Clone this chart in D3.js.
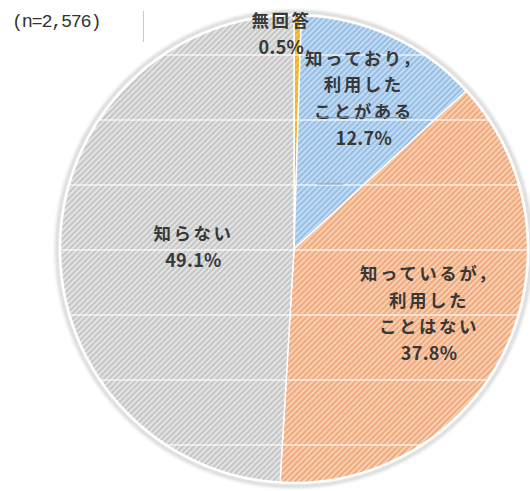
<!DOCTYPE html>
<html lang="ja">
<head>
<meta charset="utf-8">
<script src="https://cdn.jsdelivr.net/npm/d3@7"></script>
<style>
  html, body { margin: 0; padding: 0; background: #ffffff; }
  svg { display: block; }
</style>
</head>
<body>
<svg id="chart" width="530" height="491"></svg>
<script>
// Survey answers, clockwise from 12 o'clock
const categories = ["無回答", "知っており，利用したことがある", "知っているが，利用したことはない", "知らない"];
const values = [0.5, 12.7, 37.8, 49.1];
const labelLines = [
  ["無回答"],
  ["知っており，", "利用した", "ことがある"],
  ["知っているが，", "利用した", "ことはない"],
  ["知らない"]
];
const sampleNote = "(n=2,576)";

// Styling: hatch colours (light ground, darker stripe) per slice
const hatch = [
  { ground: "#f5c43e", stripe: "#eeb22a" },
  { ground: "#c3dbf2", stripe: "#97bfe6" },
  { ground: "#f9cfb2", stripe: "#f0aa7e" },
  { ground: "#e3e3e3", stripe: "#c6c6c6" }
];
// Label placement: radius as a fraction of the pie radius, plus a small x nudge
const labelLayout = [
  { f: 0.925, dx: -16 },
  { f: 0.715, dx: 0 },
  { f: 0.63, dx: 2 },
  { f: 0.43, dx: 0 }
];

const W = 530, H = 491;
const cx = 294, cy = 249, R = 234;

const svg = d3.select("#chart");
const defs = svg.append("defs");

hatch.forEach((h, i) => {
  const p = defs.append("pattern")
    .attr("id", "hatch" + i)
    .attr("patternUnits", "userSpaceOnUse")
    .attr("width", 4).attr("height", 4)
    .attr("patternTransform", "rotate(45)");
  p.append("rect").attr("width", 4).attr("height", 4).attr("fill", h.ground);
  p.append("rect").attr("width", 2).attr("height", 4).attr("fill", h.stripe);
});

defs.append("clipPath").attr("id", "pieClip")
  .append("circle").attr("r", R);

defs.append("filter").attr("id", "soft")
  .attr("x", "-10%").attr("y", "-10%").attr("width", "120%").attr("height", "120%")
  .append("feGaussianBlur").attr("stdDeviation", 1.6);

// sample size note and the thin divider next to it
svg.append("text")
  .attr("x", 12).attr("y", 27)
  .attr("font-family", "'Liberation Mono', 'DejaVu Sans Mono', monospace")
  .attr("font-size", 18.5)
  .attr("letter-spacing", -1.3)
  .attr("fill", "#333333")
  .text(sampleNote);

svg.append("line")
  .attr("x1", 143.5).attr("x2", 143.5)
  .attr("y1", 11).attr("y2", 42)
  .attr("stroke", "#c9c9c9").attr("stroke-width", 1);

const g = svg.append("g").attr("transform", `translate(${cx},${cy})`);

// faint grey halo around the disc
g.append("circle")
  .attr("r", R + 3)
  .attr("fill", "none")
  .attr("stroke", "#b4b4b4")
  .attr("stroke-width", 4)
  .attr("opacity", 0.5)
  .attr("filter", "url(#soft)");

const pie = d3.pie().sort(null).value(d => d);
const arcs = pie(values);
const arc = d3.arc().innerRadius(0).outerRadius(R);

g.selectAll("path.slice")
  .data(arcs)
  .join("path")
  .attr("class", "slice")
  .attr("d", arc)
  .attr("fill", (d, i) => `url(#hatch${i})`)
  .attr("stroke", "#ffffff")
  .attr("stroke-width", 1.4)
  .attr("stroke-linejoin", "round");

// pale horizontal rules running across the disc
const rules = g.append("g").attr("clip-path", "url(#pieClip)");
rules.selectAll("line")
  .data(d3.range(7).map(k => 55 + 65 * k - cy))
  .join("line")
  .attr("x1", -R).attr("x2", R)
  .attr("y1", d => d).attr("y2", d => d)
  .attr("stroke", "#ffffff")
  .attr("stroke-width", 1.4)
  .attr("opacity", 0.75);

// outer white rim
g.append("circle")
  .attr("r", R)
  .attr("fill", "none")
  .attr("stroke", "#ffffff")
  .attr("stroke-width", 2.5);

// small grey rule marks inside the blue slice
svg.append("line")
  .attr("x1", 317).attr("x2", 343).attr("y1", 184).attr("y2", 184)
  .attr("stroke", "#9a9a9a").attr("stroke-width", 1.2).attr("opacity", 0.8);
svg.append("line")
  .attr("x1", 317).attr("x2", 413).attr("y1", 117.5).attr("y2", 117.5)
  .attr("stroke", "#8c8c8c").attr("stroke-width", 1.2).attr("opacity", 0.7);

// labels: category lines followed by the value
const lineGap = 26.5;
const labels = g.selectAll("g.label")
  .data(arcs)
  .join("g")
  .attr("class", "label")
  .attr("transform", (d, i) => {
    const rr = R * labelLayout[i].f;
    const c = d3.arc().innerRadius(rr).outerRadius(rr).centroid(d);
    return `translate(${c[0] + labelLayout[i].dx},${c[1]})`;
  });

labels.each(function (d, i) {
  const lines = labelLines[i].map(t => ({ t, num: false }))
    .concat([{ t: d.data.toFixed(1) + "%", num: true }]);
  const n = lines.length;
  d3.select(this).selectAll("text")
    .data(lines)
    .join("text")
    .attr("x", 0)
    .attr("y", (l, k) => (k - (n - 1) / 2) * lineGap)
    .attr("text-anchor", "middle")
    .attr("dominant-baseline", "central")
    .attr("font-family", "'Noto Sans CJK JP', 'Noto Sans', sans-serif")
    .attr("font-weight", "bold")
    .attr("font-size", l => l.num ? 18 : 17.5)
    .attr("letter-spacing", l => l.num ? 0.3 : 2.5)
    .attr("fill", "#383838")
    .text(l => l.t);
});
</script>
</body>
</html>
